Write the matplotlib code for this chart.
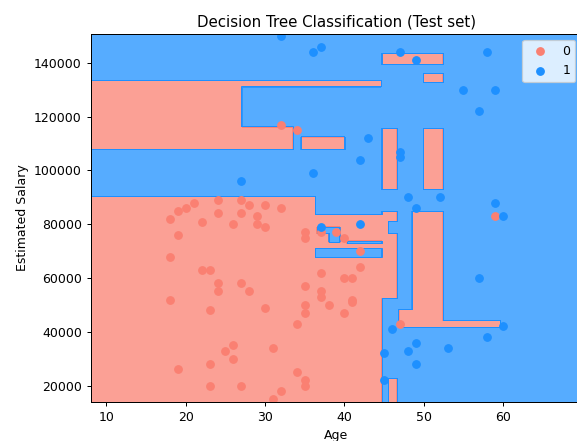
import numpy as np
import matplotlib.pyplot as plt
from matplotlib.colors import ListedColormap

# === Test set points (Age, Estimated Salary) ===
age_0 = [21, 20, 19, 18, 24, 24, 27, 27, 28, 30, 32, 22, 26, 29, 29, 30, 19, 18,
         22, 23, 24, 24, 27, 28, 18, 23, 30, 35, 35, 35, 34, 25, 26, 26, 31, 23,
         19, 34, 35, 35, 23, 27, 32, 31, 37, 37, 37, 38, 35, 35, 37, 39, 40, 42,
         42, 40, 41, 41, 41, 40, 47, 59, 32, 34]
salary_0 = [88000, 86000, 85000, 82000, 89000, 84000, 89000, 84000, 87000, 87000,
            86000, 81000, 80000, 83000, 80000, 79000, 76000, 68000, 63000, 63000,
            58000, 55000, 58000, 55000, 52000, 48000, 49000, 57000, 50000, 47000,
            43000, 33000, 35000, 30000, 34000, 28000, 26000, 25000, 22000, 20000,
            20000, 20000, 18000, 15000, 62000, 55000, 53000, 50000, 77000, 75000,
            77000, 77000, 75000, 70000, 64000, 60000, 60000, 52000, 51000, 47000,
            43000, 83000, 117000, 115000]

age_1 = [32, 36, 37, 47, 49, 58, 55, 59, 57, 43, 47, 47, 42, 36, 27, 48, 52, 49,
         59, 60, 37, 42, 57, 46, 60, 58, 45, 48, 49, 49, 53, 45]
salary_1 = [150000, 144000, 146000, 144000, 141000, 144000, 130000, 130000, 122000,
            112000, 107000, 105000, 104000, 99000, 96000, 90000, 90000, 86000,
            88000, 83000, 79000, 80000, 60000, 41000, 42000, 38000, 32000, 33000,
            36000, 28000, 34000, 22000]

# === Tree leaf boxes, painted in order over a class-1 background ===
box_x0 = [8, 36.3, 44.7, 45.56, 36.5, 38.0, 40.3, 36.3, 45.56, 48.51, 46.82,
          52.46, 8, 27.07, 34.5, 8, 44.7, 49.9, 44.7, 49.9]
box_x1 = [44.7, 44.7, 46.62, 46.62, 39.47, 39.47, 44.7, 44.7, 46.62, 52.46,
          48.51, 59.65, 27.07, 33.58, 40.0, 44.6, 46.62, 52.46, 52.46, 52.46]
box_y0 = [14000, 83660, 52280, 76480, 76480, 73350, 72750, 67770, 14000, 41700,
          41700, 41700, 107750, 107750, 107750, 131060, 92860, 92860, 139400, 132550]
box_y1 = [90400, 90400, 84890, 81170, 78940, 78940, 73720, 70890, 22700, 84890,
          48180, 44200, 133550, 116170, 112440, 133550, 115570, 115570, 143490, 136050]
box_class = [0, 1, 0, 1, 1, 1, 1, 1, 0, 0, 0, 0, 0, 0, 0, 0, 0, 0, 0, 0]

# === Decision surface ===
X1, X2 = np.meshgrid(np.arange(8, 70, 0.1), np.arange(14000, 151000, 100))
Z = np.ones(X1.shape)
for x0, x1, y0, y1, c in zip(box_x0, box_x1, box_y0, box_y1, box_class):
    Z[(X1 >= x0) & (X1 < x1) & (X2 >= y0) & (X2 < y1)] = c

fig = plt.figure(figsize=(577 / 90, 441 / 90), dpi=90)
ax = fig.add_axes([0.157, 0.089, 0.851, 0.835])
cmap = ListedColormap(('salmon', 'dodgerblue'))
ax.contourf(X1, X2, Z, alpha=0.75, cmap=cmap)
ax.set_xlim(X1.min(), X1.max())
ax.set_ylim(X2.min(), X2.max())

ax.scatter(age_0, salary_0, color='salmon', label='0')
ax.scatter(age_1, salary_1, color='dodgerblue', label='1')

ax.set_title('Decision Tree Classification (Test set)')
ax.set_xlabel('Age')
ax.set_ylabel('Estimated Salary')
ax.legend(loc='upper right')

fig.savefig('out.png', dpi=90)
